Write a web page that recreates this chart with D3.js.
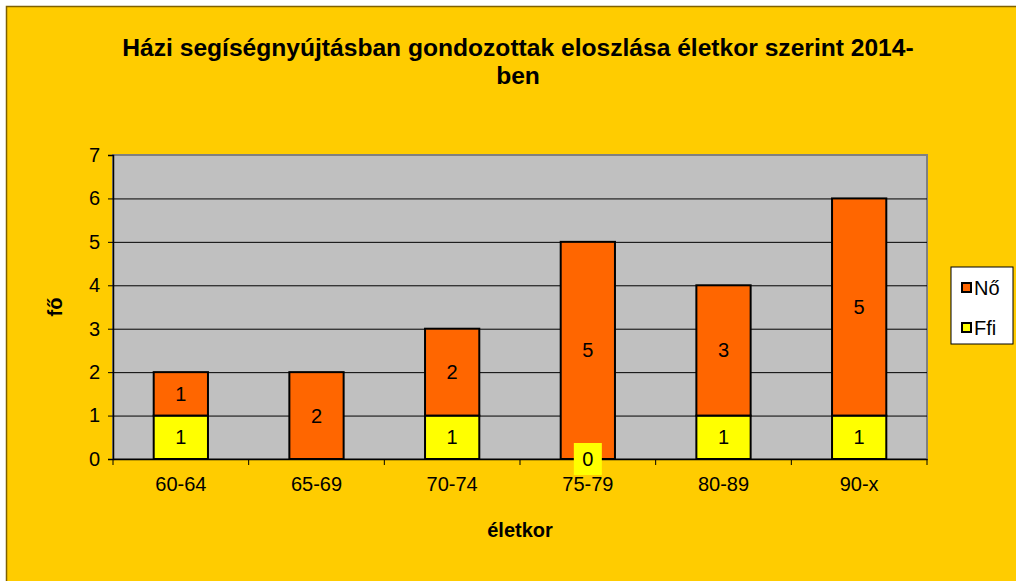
<!DOCTYPE html>
<html>
<head>
<meta charset="utf-8">
<script src="https://cdn.jsdelivr.net/npm/d3@7"></script>
<style>
  body { margin: 0; background: #fff; }
  svg { display: block; font-family: "Liberation Sans", Arial, sans-serif; }
</style>
</head>
<body>
<div id="chart"></div>
<script>
// kategóriák és adatok
const categories = ["60-64", "65-69", "70-74", "75-79", "80-89", "90-x"];
const ffiValues = [1, 0, 1, 0, 1, 1];
const noValues = [1, 2, 2, 5, 3, 5];
const ffiLabels = ["1", "", "1", "0", "1", "1"];
const noLabels = ["1", "2", "2", "5", "3", "5"];
const yTicks = [0, 1, 2, 3, 4, 5, 6, 7];
const seriesNames = ["Nő", "Ffi"];

const width = 1016, height = 581;
const margin = { top: 155, right: 89, bottom: 122, left: 113 };
const colNo = "#FF6600", colFfi = "#FFFF00";

const svg = d3.select("#chart").append("svg")
    .attr("width", width)
    .attr("height", height);

// háttér
svg.append("rect")
    .attr("x", 6.5).attr("y", 6.5)
    .attr("width", width + 20).attr("height", height + 20)
    .attr("fill", "#FFCC00")
    .attr("stroke", "#7F6000")
    .attr("stroke-width", 1.5);

const x = d3.scaleBand()
    .domain(categories)
    .range([margin.left, width - margin.right])
    .paddingInner(0.6).paddingOuter(0.3);

const xOuter = d3.scaleBand()
    .domain(categories)
    .range([margin.left, width - margin.right]);

const y = d3.scaleLinear()
    .domain([0, 7])
    .range([height - margin.bottom, margin.top]);

// plot terület
svg.append("rect")
    .attr("x", margin.left).attr("y", margin.top)
    .attr("width", width - margin.left - margin.right)
    .attr("height", y(0) - y(7))
    .attr("fill", "#C0C0C0")
    .attr("stroke", "#808080")
    .attr("stroke-width", 2);

// rácsvonalak
svg.append("g")
    .selectAll("line")
    .data(yTicks.filter(d => d > 0 && d < 7))
    .join("line")
    .attr("x1", margin.left).attr("x2", width - margin.right)
    .attr("y1", d => y(d) + 0.5).attr("y2", d => y(d) + 0.5)
    .attr("stroke", "#000")
    .attr("stroke-width", 1);

// y tengely
const yAxis = svg.append("g")
    .attr("transform", `translate(${margin.left},0)`)
    .call(d3.axisLeft(y).tickValues(yTicks).tickFormat(d3.format("d")).tickSize(5).tickPadding(8));
yAxis.select(".domain").attr("stroke", "#000").attr("stroke-width", 1.5);
yAxis.selectAll(".tick line").attr("stroke", "#000");
yAxis.selectAll("text").attr("font-size", 20).attr("fill", "#000").attr("font-family", "Liberation Sans, Arial, sans-serif");

// x tengely
const xAxis = svg.append("g")
    .attr("transform", `translate(0,${y(0)})`)
    .call(d3.axisBottom(xOuter).tickSize(0).tickPadding(18));
xAxis.select(".domain").attr("stroke", "#000").attr("stroke-width", 1.5);
xAxis.selectAll("text").attr("font-size", 20).attr("fill", "#000").attr("font-family", "Liberation Sans, Arial, sans-serif");
svg.append("g")
    .selectAll("line")
    .data(d3.range(categories.length + 1))
    .join("line")
    .attr("x1", i => margin.left + i * xOuter.step())
    .attr("x2", i => margin.left + i * xOuter.step())
    .attr("y1", y(0)).attr("y2", y(0) + 6)
    .attr("stroke", "#000");

// oszlopok
const rows = categories.map((c, i) => ({ c, ffi: ffiValues[i], no: noValues[i], ffiLab: ffiLabels[i], noLab: noLabels[i] }));

const bars = svg.append("g");
bars.selectAll("rect.ffi")
    .data(rows.filter(d => d.ffi > 0))
    .join("rect")
    .attr("class", "ffi")
    .attr("x", d => x(d.c))
    .attr("width", x.bandwidth())
    .attr("y", d => y(d.ffi))
    .attr("height", d => y(0) - y(d.ffi))
    .attr("fill", colFfi)
    .attr("stroke", "#000")
    .attr("stroke-width", 2);

bars.selectAll("rect.no")
    .data(rows)
    .join("rect")
    .attr("class", "no")
    .attr("x", d => x(d.c))
    .attr("width", x.bandwidth())
    .attr("y", d => y(d.ffi + d.no))
    .attr("height", d => y(d.ffi) - y(d.ffi + d.no))
    .attr("fill", colNo)
    .attr("stroke", "#000")
    .attr("stroke-width", 2);

// címkék
const labels = svg.append("g")
    .attr("font-size", 20)
    .attr("text-anchor", "middle");

labels.selectAll("text.no")
    .data(rows)
    .join("text")
    .attr("x", d => x(d.c) + x.bandwidth() / 2)
    .attr("y", d => y(d.ffi + d.no / 2))
    .attr("dy", "0.35em")
    .text(d => d.noLab);

// nulla címke sárga háttérrel
const zeroRows = rows.filter(d => d.ffi === 0 && d.ffiLab !== "");
labels.selectAll("rect.zero")
    .data(zeroRows)
    .join("rect")
    .attr("x", d => x(d.c) + x.bandwidth() / 2 - 14)
    .attr("y", y(0) - 16)
    .attr("width", 28)
    .attr("height", 32)
    .attr("fill", colFfi);

labels.selectAll("text.ffi")
    .data(rows.filter(d => d.ffiLab !== ""))
    .join("text")
    .attr("x", d => x(d.c) + x.bandwidth() / 2)
    .attr("y", d => d.ffi > 0 ? y(d.ffi / 2) : y(0))
    .attr("dy", "0.35em")
    .text(d => d.ffiLab);

// cím
const title = svg.append("text")
    .attr("x", 518)
    .attr("y", 56)
    .attr("text-anchor", "middle")
    .attr("font-size", 24.6)
    .attr("font-weight", "bold");
title.append("tspan").attr("x", 518).text("Házi segíségnyújtásban gondozottak eloszlása életkor szerint 2014-");
title.append("tspan").attr("x", 518).attr("dy", 28).text("ben");

// tengelycímek
svg.append("text")
    .attr("x", 520).attr("y", 537)
    .attr("text-anchor", "middle")
    .attr("font-size", 20)
    .attr("font-weight", "bold")
    .text("életkor");

svg.append("text")
    .attr("transform", `translate(62,${(y(0) + y(7)) / 2}) rotate(-90)`)
    .attr("text-anchor", "middle")
    .attr("font-size", 20)
    .attr("font-weight", "bold")
    .text("fő");

// jelmagyarázat
const legend = svg.append("g").attr("transform", "translate(951,267)");
legend.append("rect")
    .attr("width", 62).attr("height", 77)
    .attr("fill", "#fff")
    .attr("stroke", "#000");
const legendColors = { "Nő": colNo, "Ffi": colFfi };
const items = legend.selectAll("g.item")
    .data(seriesNames)
    .join("g")
    .attr("transform", (d, i) => `translate(11,${21 + i * 40})`);
items.append("rect")
    .attr("x", 0).attr("y", -5)
    .attr("width", 9).attr("height", 9)
    .attr("fill", d => legendColors[d])
    .attr("stroke", "#000")
    .attr("stroke-width", 2);
items.append("text")
    .attr("x", 12).attr("y", 0)
    .attr("dy", "0.35em")
    .attr("font-size", 20)
    .text(d => d);
</script>
</body>
</html>
